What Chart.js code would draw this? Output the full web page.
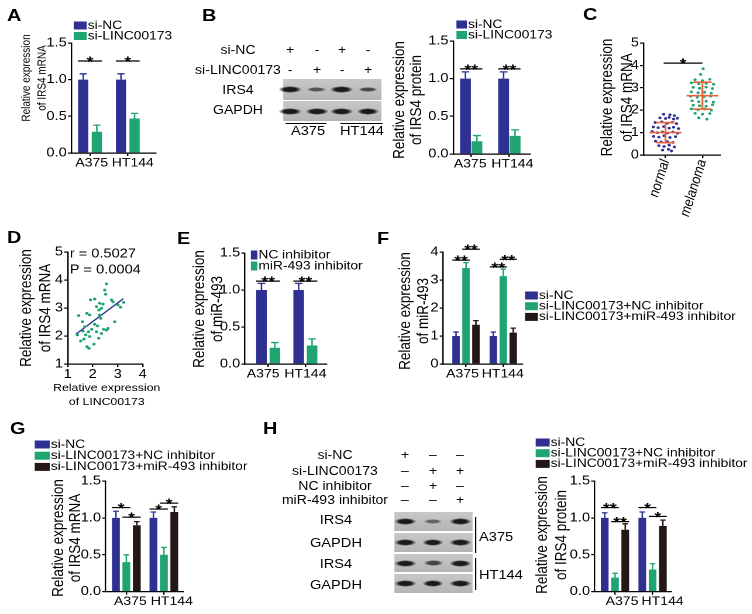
<!DOCTYPE html>
<html><head><meta charset="utf-8">
<script src="https://cdn.jsdelivr.net/npm/chart.js@4.4.0/dist/chart.umd.min.js"></script>
<style>
html,body{margin:0;padding:0;background:#fff;width:752px;height:614px;overflow:hidden}
#wrap{position:absolute;left:0;top:0;width:643px;height:614px;transform:scaleX(1.17);transform-origin:0 0;font-family:"Liberation Sans",Arial,Helvetica,sans-serif;color:#000}
.t{position:absolute;white-space:nowrap;line-height:1}
</style></head><body><div id="wrap"></div>
<script>
// ---------------- data ----------------
const cellLines = ['A375', 'HT144'];
// A: IRS4 mRNA
const aSiNC = [1.00, 1.00], aSiNCErr = [0.08, 0.08];
const aSiLINC = [0.29, 0.47], aSiLINCErr = [0.09, 0.07];
const aSig = [{g:0,a:0,b:1,v:1.255,t:'*'},{g:1,a:0,b:1,v:1.255,t:'*'}];
// B: IRS4 protein
const bSiNC = [1.00, 1.00], bSiNCErr = [0.09, 0.09];
const bSiLINC = [0.17, 0.24], bSiLINCErr = [0.075, 0.08];
const bSig = [{g:0,a:0,b:1,v:1.13,t:'**'},{g:1,a:0,b:1,v:1.13,t:'**'}];
const bSiNCSigns = ['+','-','+','-'], bSiLINCSigns = ['-','+','-','+'];
const bIRS4Band = [1, 0.45, 1, 0.55], bGAPDHBand = [1, 1, 1, 1];
// C: scatter normal vs melanoma
const cGroups = ['normal', 'melanoma'];
const cNormalJit = [-0.05,0.12,0.24,-0.15,0.0,0.1,0.22,0.32,-0.28,-0.1,0.05,0.18,0.3,-0.33,-0.2,-0.05,0.1,0.22,0.35,-0.36,-0.22,-0.08,0.05,0.2,0.33,-0.32,-0.18,-0.04,0.12,0.27,-0.27,-0.12,0.05,0.2,-0.18,-0.04,0.1,0.24,-0.08,0.08,0.16];
const cNormalVal = [1.82,1.80,1.76,1.66,1.63,1.68,1.60,1.64,1.45,1.48,1.42,1.46,1.40,1.25,1.22,1.27,1.20,1.24,1.18,1.05,1.00,1.03,0.98,1.02,0.97,0.83,0.80,0.86,0.78,0.82,0.62,0.58,0.60,0.56,0.42,0.38,0.44,0.36,0.22,0.25,0.18];
const cMelJit = [0.02,-0.05,-0.2,0.0,0.2,-0.3,-0.1,0.1,0.3,-0.25,-0.08,0.1,0.27,-0.3,-0.12,0.06,0.24,-0.32,-0.14,0.04,0.22,-0.28,-0.1,0.1,0.3,-0.25,-0.08,0.1,0.27,-0.3,-0.12,0.06,0.24,-0.2,0.0,0.2,-0.1,0.12];
const cMelVal = [3.85,3.60,3.36,3.32,3.38,3.22,3.18,3.20,3.16,3.02,2.98,3.03,2.97,2.82,2.78,2.80,2.76,2.62,2.58,2.60,2.63,2.42,2.38,2.40,2.36,2.22,2.20,2.18,2.24,2.06,2.02,2.05,2.00,1.86,1.82,1.85,1.66,1.60];
const cMean = [1.00, 2.65], cSD = [0.45, 0.60];
// D: correlation
const dLINC = [1.39,1.44,1.52,1.61,1.68,1.72,1.77,1.83,1.77,1.85,1.88,1.91,1.88,1.96,2.08,2.15,2.19,2.24,2.25,2.28,2.35,2.32,2.41,2.44,2.48,2.52,2.55,2.55,2.61,2.75,2.81,2.88,3.01,3.11,3.24,2.05,1.59,2.08,2.35,1.65,2.15,2.28];
const dIRS4 = [2.04,2.73,1.82,2.18,2.33,2.04,2.81,2.15,1.62,1.56,2.75,3.29,1.98,2.24,3.32,3.05,2.36,1.92,2.93,3.17,2.99,2.63,3.14,2.24,3.64,3.49,3.86,2.21,2.27,3.29,3.22,2.51,3.11,3.03,3.20,1.71,2.51,2.42,2.09,1.89,2.15,2.75];
const dFitX = [1.32, 3.22], dFitY = [2.06, 3.33];
// E: miR-493
const eNCinh = [1.00, 1.00], eNCinhErr = [0.09, 0.09];
const eMiRinh = [0.22, 0.25], eMiRinhErr = [0.07, 0.09];
const eSig = [{g:0,a:0,b:1,v:1.12,t:'**'},{g:1,a:0,b:1,v:1.12,t:'**'}];
// F: miR-493, 3 groups
const fSiNC = [1.00, 1.00], fSiNCErr = [0.14, 0.14];
const fNCinh = [3.43, 3.14], fNCinhErr = [0.19, 0.25];
const fMiRinh = [1.40, 1.12], fMiRinhErr = [0.15, 0.16];
const fSig = [{g:0,a:0,b:1,v:3.71,t:'**'},{g:0,a:1,b:2,v:4.10,t:'**'},{g:1,a:0,b:1,v:3.47,t:'**'},{g:1,a:1,b:2,v:3.74,t:'**'}];
// G: IRS4 mRNA, 3 groups
const gSiNC = [1.00, 1.00], gSiNCErr = [0.09, 0.08];
const gNCinh = [0.40, 0.50], gNCinhErr = [0.10, 0.10];
const gMiRinh = [0.90, 1.08], gMiRinhErr = [0.05, 0.07];
const gSig = [{g:0,a:0,b:1,v:1.14,t:'*'},{g:0,a:1,b:2,v:1.01,t:'*'},{g:1,a:0,b:1,v:1.12,t:'*'},{g:1,a:1,b:2,v:1.20,t:'*'}];
// H: IRS4 protein, 3 groups
const hSiNC = [1.00, 1.00], hSiNCErr = [0.07, 0.08];
const hNCinh = [0.19, 0.30], hNCinhErr = [0.06, 0.08];
const hMiRinh = [0.84, 0.89], hMiRinhErr = [0.08, 0.08];
const hSig = [{g:0,a:0,b:1,v:1.14,t:'**'},{g:0,a:1,b:2,v:0.95,t:'**'},{g:1,a:0,b:1,v:1.14,t:'*'},{g:1,a:1,b:2,v:1.02,t:'*'}];
const hSiNCSigns = ['+','–','–'], hSiLINCSigns = ['–','+','+'], hNCinhSigns = ['–','+','–'], hMiRinhSigns = ['–','–','+'];
const hIRS4A375Band = [1, 0.3, 1], hIRS4HT144Band = [1, 0.6, 1], hGAPDHBand = [1, 1, 1];

// ---------------- style / layout ----------------
const S = 1.17;
const BLUE = '#2e3192', GREEN = '#1fa472', BLACK = '#231815', ORANGE = '#e9663d';
const FONT = '"Liberation Sans", Arial, Helvetica, sans-serif';
const TICK = 12.5, XLAB = 12, LEG = 11.8, STAR = 15;
const wrap = document.getElementById('wrap');
Chart.defaults.font.family = FONT;
Chart.defaults.color = '#000';

function htmlText(s, x, y, size, align, extra) {
  const d = document.createElement('div');
  d.className = 't'; d.textContent = s;
  d.style.fontSize = size + 'px';
  d.style.left = (x / S) + 'px'; d.style.top = y + 'px';
  const tx = align === 'left' ? '0' : align === 'right' ? '-100%' : '-50%';
  d.style.transform = `translate(${tx},-50%)`;
  if (extra) Object.assign(d.style, extra);
  wrap.appendChild(d);
}
function htmlLine(xa, ya, xb, yb, w) {
  const d = document.createElement('div');
  d.style.position = 'absolute'; d.style.background = '#000';
  if (ya === yb) { d.style.left = xa / S + 'px'; d.style.width = (xb - xa) / S + 'px'; d.style.top = (ya - w / 2) + 'px'; d.style.height = w + 'px'; }
  else { d.style.left = (xa - w / 2) / S + 'px'; d.style.width = w / S + 'px'; d.style.top = ya + 'px'; d.style.height = (yb - ya) + 'px'; }
  wrap.appendChild(d);
}
function blotStrip(xa, xb, ya, yb, lanes, intens, bw, bh) {
  const d = document.createElement('div');
  d.style.cssText = `position:absolute;left:${xa / S}px;top:${ya}px;width:${(xb - xa) / S}px;height:${yb - ya}px;background:linear-gradient(#c8c8c8,#b4b4b4);`;
  wrap.appendChild(d);
  lanes.forEach((lx, i) => {
    const a = intens[i];
    const w = bw * (0.75 + 0.25 * a), h = bh * (0.45 + 0.55 * a);
    const b = document.createElement('div');
    b.style.cssText = `position:absolute;left:${(lx - w / 2) / S}px;top:${(ya + yb) / 2 - h / 2}px;width:${w / S}px;height:${h}px;border-radius:50%;background:radial-gradient(closest-side, rgba(18,18,18,${0.35 + 0.6 * a}) 55%, rgba(18,18,18,0) 100%);`;
    wrap.appendChild(b);
  });
}

function makeChart(p, type, datasets) {
  const W = Math.round((p.x1 - p.x0) / S), H = Math.round(p.y1 - p.y0);
  const cv = document.createElement('canvas');
  cv.width = W; cv.height = H;
  cv.style.position = 'absolute'; cv.style.left = (p.x0 / S) + 'px'; cv.style.top = p.y0 + 'px';
  wrap.appendChild(cv);
  const cx = x => (x - p.x0) / S, cy = y => y - p.y0;
  const yw = cx(p.L), xh = p.y1 - p.B, padR = W - cx(p.R), padT = cy(p.T);
  const border = {display: true, color: '#000', width: 1.2};
  const grid = {display: true, drawOnChartArea: false, drawTicks: true, tickLength: 3, color: '#000', lineWidth: 1.2, offset: false};
  const extras = {
    id: 'extras',
    afterDraw(chart) {
      const ctx = chart.ctx, ys = chart.scales.y, xs = chart.scales.x;
      if (p.errs) chart.data.datasets.forEach((ds, di) => {
        chart.getDatasetMeta(di).data.forEach((el, i) => {
          const top = ys.getPixelForValue(ds.data[i].y + p.errs[di][i]);
          ctx.save(); ctx.strokeStyle = ds.backgroundColor; ctx.lineWidth = 1.3;
          ctx.beginPath(); ctx.moveTo(el.x, el.y); ctx.lineTo(el.x, top);
          const hw = el.width * 0.36; ctx.moveTo(el.x - hw, top); ctx.lineTo(el.x + hw, top);
          ctx.stroke(); ctx.restore();
        });
      });
      (p.sig || []).forEach(s => {
        const A = chart.getDatasetMeta(s.a).data[s.g], B = chart.getDatasetMeta(s.b).data[s.g];
        const y = ys.getPixelForValue(s.v);
        const xa = A.x - A.width / 2, xb = B.x + B.width / 2;
        ctx.save(); ctx.strokeStyle = '#000'; ctx.lineWidth = 1.2;
        ctx.beginPath(); ctx.moveTo(xa, y); ctx.lineTo(xb, y); ctx.stroke();
        ctx.font = `bold ${STAR}px ${FONT}`; ctx.fillStyle = '#000'; ctx.textAlign = 'center'; ctx.textBaseline = 'alphabetic';
        ctx.fillText(s.t, (xa + xb) / 2, y + 5.5); ctx.restore();
      });
      if (p.labelShift) {
        ctx.save(); ctx.font = `${XLAB}px ${FONT}`; ctx.fillStyle = '#000';
        ctx.textAlign = 'center'; ctx.textBaseline = 'middle';
        p.xLabels.forEach((s, i) => ctx.fillText(s, xs.getPixelForValue(p.xTickVals[i]) + p.labelShift[i] / S, cy(p.B + 10)));
        ctx.restore();
      }
      if (p.legend) {
        const L = p.legend;
        chart.data.datasets.forEach((ds, i) => {
          const yy = L.y + i * L.dy;
          ctx.save(); ctx.fillStyle = ds.backgroundColor;
          ctx.fillRect(cx(L.x), cy(yy - L.bh / 2), L.bw / S, L.bh);
          ctx.fillStyle = '#000'; ctx.font = `${LEG}px ${FONT}`; ctx.textAlign = 'left'; ctx.textBaseline = 'middle';
          ctx.fillText(ds.label, cx(L.x + L.bw + 1), cy(yy)); ctx.restore();
        });
      }
      (p.titles || []).forEach(t => {
        ctx.save(); ctx.translate(cx(t.x), cy(t.y)); if (t.rot) ctx.rotate(t.rot);
        ctx.font = `${t.size}px ${FONT}`; ctx.fillStyle = '#000';
        ctx.textAlign = t.align || 'center'; ctx.textBaseline = 'middle';
        ctx.fillText(t.s, 0, 0); ctx.restore();
      });
      if (p.custom) p.custom(chart, ctx);
    }
  };
  const xTicks = {display: !p.labelShift, font: {size: TICK, style: p.xItalic ? 'italic' : 'normal'}, padding: 0, autoSkip: false,
    minRotation: p.xRot || 0, maxRotation: p.xRot || 0};
  if (p.xLabels) xTicks.callback = (v, i) => p.xLabels[i];
  else xTicks.stepSize = p.xStep;
  const xScale = {type: 'linear', min: p.xMin, max: p.xMax, offset: false, border, grid, ticks: xTicks,
    afterFit: s => { s.height = xh; }};
  if (p.xTickVals) xScale.afterBuildTicks = s => { s.ticks = p.xTickVals.map(v => ({value: v})); };
  const cfg = {
    type, data: {datasets},
    options: {
      responsive: false, devicePixelRatio: 2, animation: false, events: [],
      layout: {padding: {left: 0, top: padT, right: padR, bottom: 0}},
      plugins: {legend: {display: false}, tooltip: {enabled: false}},
      scales: {
        x: xScale,
        y: {type: 'linear', min: p.yMin, max: p.yMax, border, grid,
          ticks: {stepSize: p.yStep, font: {size: TICK}, padding: 1, callback: p.yFmt},
          afterFit: s => { s.width = yw; }}
      }
    },
    plugins: [extras]
  };
  return new Chart(cv, cfg);
}

function barPanel(p, series) {
  const ds = series.map(s => ({
    label: s.label, data: s.values.map((v, i) => ({x: i, y: v})),
    backgroundColor: s.color, borderWidth: 0, barPercentage: p.barPct, categoryPercentage: p.catPct
  }));
  p.errs = series.map(s => s.errors);
  p.xTickVals = cellLines.map((_, i) => i);
  p.xLabels = cellLines;
  return makeChart(p, 'bar', ds);
}
const ROT = -Math.PI / 2;
const fmt1 = v => v.toFixed(1);
const fmt0 = v => v.toFixed(0);
const yTitle = (l1, l2, x1, x2, y, size) => [
  {s: l1, x: x1, y, size, rot: ROT}, {s: l2, x: x2, y, size, rot: ROT}];

// ---------------- panel letters ----------------
[['A',7,15],['B',202,15],['C',583,14],['D',7,237],['E',177,238],['F',377,238],['G',10,428],['H',263,428]]
  .forEach(([s, x, y]) => htmlText(s, x, y, 17, 'left', {fontWeight: 'bold'}));

// ---------------- A ----------------
barPanel({x0: 12, x1: 200, y0: 15, y1: 180, L: 71.7, R: 156, T: 43, B: 153,
  xMin: -0.493, xMax: 1.74, yMin: 0, yMax: 1.5, yStep: 0.5, yFmt: fmt1, catPct: 0.72, barPct: 0.75,
  labelShift: [1.7, 5], legend: {x: 74, y: 25.5, dy: 10.5, bw: 13, bh: 8}, sig: aSig,
  titles: yTitle('Relative expression', 'of IRS4 mRNA', 27, 43, 78, 10)},
  [{label: 'si-NC', values: aSiNC, errors: aSiNCErr, color: BLUE},
   {label: 'si-LINC00173', values: aSiLINC, errors: aSiLINCErr, color: GREEN}]);

// ---------------- B blot ----------------
htmlText('si-NC', 238, 50, 12); htmlText('si-LINC00173', 238, 70, 12);
htmlText('IRS4', 238, 90, 12); htmlText('GAPDH', 238, 110, 12);
const bLanes = [290, 317, 342, 368];
bLanes.forEach((x, i) => { htmlText(bSiNCSigns[i], x, 50, 12); htmlText(bSiLINCSigns[i], x, 70, 12); });
blotStrip(283, 382, 79, 100, bLanes, bIRS4Band, 23, 7);
blotStrip(283, 382, 101, 121, bLanes, bGAPDHBand, 23, 7);
htmlLine(285, 123, 326, 123, 1); htmlLine(340, 123, 383, 123, 1);
htmlText('A375', 308, 131, 12.5); htmlText('HT144', 362, 131, 12.5);

// ---------------- B chart ----------------
barPanel({x0: 385, x1: 565, y0: 15, y1: 180, L: 453.3, R: 530, T: 41, B: 154,
  xMin: -0.47, xMax: 1.54, yMin: 0, yMax: 1.5, yStep: 0.5, yFmt: fmt1, catPct: 0.6, barPct: 0.95,
  labelShift: [-1, 3], legend: {x: 456.5, y: 24.5, dy: 10.5, bw: 10.5, bh: 8}, sig: bSig,
  titles: yTitle('Relative expression', 'of IRS4 protein', 400, 417, 100, 13.5)},
  [{label: 'si-NC', values: bSiNC, errors: bSiNCErr, color: BLUE},
   {label: 'si-LINC00173', values: bSiLINC, errors: bSiLINCErr, color: GREEN}]);

// ---------------- C ----------------
makeChart({x0: 595, x1: 750, y0: 20, y1: 225, L: 643, R: 720, T: 43, B: 155,
  xMin: 0.405, xMax: 2.49, xTickVals: [1, 2], xLabels: cGroups, xItalic: true, xRot: 75,
  yMin: 0, yMax: 5, yStep: 1, yFmt: fmt0,
  titles: yTitle('Relative expression', 'of IRS4 mRNA', 607, 627, 97.5, 13.5),
  custom(chart, ctx) {
    const X = v => chart.scales.x.getPixelForValue(v), Y = v => chart.scales.y.getPixelForValue(v);
    ctx.save(); ctx.strokeStyle = ORANGE; ctx.lineWidth = 1.6; ctx.beginPath();
    cMean.forEach((m, i) => {
      const c = i + 1, sd = cSD[i];
      ctx.moveTo(X(c - 0.43), Y(m)); ctx.lineTo(X(c + 0.43), Y(m));
      ctx.moveTo(X(c), Y(m - sd)); ctx.lineTo(X(c), Y(m + sd));
      ctx.moveTo(X(c - 0.25), Y(m + sd)); ctx.lineTo(X(c + 0.25), Y(m + sd));
      ctx.moveTo(X(c - 0.25), Y(m - sd)); ctx.lineTo(X(c + 0.25), Y(m - sd));
    });
    ctx.stroke();
    const y = Y(4.1);
    ctx.strokeStyle = '#000'; ctx.lineWidth = 1.2; ctx.beginPath();
    ctx.moveTo(X(0.95), y); ctx.lineTo(X(2.0), y); ctx.stroke();
    ctx.font = `bold ${STAR}px ${FONT}`; ctx.fillStyle = '#000'; ctx.textAlign = 'center';
    ctx.fillText('*', (X(0.95) + X(2.0)) / 2, y + 5.5);
    ctx.restore();
  }}, 'scatter', [
  {label: 'normal', data: cNormalVal.map((v, i) => ({x: 1 + cNormalJit[i], y: v})),
   backgroundColor: BLUE, pointBackgroundColor: BLUE, pointRadius: 1.35, pointBorderWidth: 0},
  {label: 'melanoma', data: cMelVal.map((v, i) => ({x: 2 + cMelJit[i], y: v})),
   backgroundColor: GREEN, pointBackgroundColor: GREEN, pointRadius: 1.35, pointBorderWidth: 0}]);

// ---------------- D ----------------
makeChart({x0: 12, x1: 175, y0: 240, y1: 410, L: 68, R: 143, T: 252, B: 364,
  xMin: 1, xMax: 4, xStep: 1, yMin: 1, yMax: 5, yStep: 1, yFmt: fmt0,
  titles: yTitle('Relative expression', 'of IRS4 mRNA', 27, 46, 308, 13.5).concat([
    {s: 'Relative expression', x: 107, y: 388, size: 10.5},
    {s: 'of LINC00173', x: 107, y: 402, size: 10.5},
    {s: 'r = 0.5027', x: 70, y: 254, size: 12.5, align: 'left'},
    {s: 'P = 0.0004', x: 70, y: 270, size: 12.5, align: 'left'}])
}, 'scatter', [
  {label: 'samples', data: dLINC.map((x, i) => ({x, y: dIRS4[i]})),
   backgroundColor: GREEN, pointBackgroundColor: GREEN, pointRadius: 1.4, pointBorderWidth: 0},
  {type: 'line', label: 'fit', data: dFitX.map((x, i) => ({x, y: dFitY[i]})),
   borderColor: BLUE, borderWidth: 1.3, pointRadius: 0, showLine: true, fill: false}]);

// ---------------- E ----------------
barPanel({x0: 185, x1: 372, y0: 240, y1: 385, L: 245, R: 326.7, T: 253, B: 364,
  xMin: -0.626, xMax: 1.57, yMin: 0, yMax: 1.5, yStep: 0.5, yFmt: fmt1, catPct: 0.72, barPct: 0.79,
  labelShift: [-5, 0], legend: {x: 251, y: 255, dy: 11, bw: 6.5, bh: 9}, sig: eSig,
  titles: yTitle('Relative expression', 'of miR-493', 200, 218, 309, 13.5)},
  [{label: 'NC inhibitor', values: eNCinh, errors: eNCinhErr, color: BLUE},
   {label: 'miR-493 inhibitor', values: eMiRinh, errors: eMiRinhErr, color: GREEN}]);

// ---------------- F ----------------
barPanel({x0: 392, x1: 750, y0: 240, y1: 385, L: 443.3, R: 522.7, T: 252, B: 364,
  xMin: -0.61, xMax: 1.52, yMin: 0, yMax: 4, yStep: 1, yFmt: fmt0, catPct: 0.8, barPct: 0.75,
  labelShift: [-3.5, -0.5], legend: {x: 525, y: 295.5, dy: 10.7, bw: 13, bh: 8}, sig: fSig,
  titles: yTitle('Relative expression', 'of miR-493', 406, 424, 311, 13.5)},
  [{label: 'si-NC', values: fSiNC, errors: fSiNCErr, color: BLUE},
   {label: 'si-LINC00173+NC inhibitor', values: fNCinh, errors: fNCinhErr, color: GREEN},
   {label: 'si-LINC00173+miR-493 inhibitor', values: fMiRinh, errors: fMiRinhErr, color: BLACK}]);

// ---------------- G ----------------
barPanel({x0: 12, x1: 255, y0: 432, y1: 612, L: 106, R: 183.3, T: 481, B: 591.7,
  xMin: -0.55, xMax: 1.51, yMin: 0, yMax: 1.5, yStep: 0.5, yFmt: fmt1, catPct: 0.835, barPct: 0.75,
  labelShift: [4, 8], legend: {x: 35, y: 444.5, dy: 11.2, bw: 15, bh: 8}, sig: gSig,
  titles: yTitle('Relative expression', 'of IRS4 mRNA', 59, 76, 538, 13.5)},
  [{label: 'si-NC', values: gSiNC, errors: gSiNCErr, color: BLUE},
   {label: 'si-LINC00173+NC inhibitor', values: gNCinh, errors: gNCinhErr, color: GREEN},
   {label: 'si-LINC00173+miR-493 inhibitor', values: gMiRinh, errors: gMiRinhErr, color: BLACK}]);

// ---------------- H blot ----------------
htmlText('si-NC', 335, 455, 12); htmlText('si-LINC00173', 335, 471, 12);
htmlText('NC inhibitor', 335, 486, 12); htmlText('miR-493 inhibitor', 335, 500, 12);
const hLanes = [405, 433, 460];
hLanes.forEach((x, i) => {
  htmlText(hSiNCSigns[i], x, 455, 12); htmlText(hSiLINCSigns[i], x, 471, 12);
  htmlText(hNCinhSigns[i], x, 486, 12); htmlText(hMiRinhSigns[i], x, 500, 12);
});
htmlText('IRS4', 336, 520, 12.5); htmlText('GAPDH', 336, 543, 12.5);
htmlText('IRS4', 336, 564, 12.5); htmlText('GAPDH', 336, 585, 12.5);
blotStrip(394, 473, 512, 531, hLanes, hIRS4A375Band, 22, 7);
blotStrip(394, 473, 533, 552, hLanes, hGAPDHBand, 22, 7);
blotStrip(394, 473, 554, 572, hLanes, hIRS4HT144Band, 22, 7);
blotStrip(394, 473, 574, 593, hLanes, hGAPDHBand, 22, 7);
htmlLine(476, 517, 476, 553, 1.2); htmlLine(476, 558, 476, 590, 1.2);
htmlText('A375', 479, 537, 12.5, 'left'); htmlText('HT144', 479, 575, 12.5, 'left');

// ---------------- H chart ----------------
barPanel({x0: 528, x1: 752, y0: 432, y1: 612, L: 595, R: 671.7, T: 481, B: 591.7,
  xMin: -0.54, xMax: 1.5, yMin: 0, yMax: 1.5, yStep: 0.5, yFmt: fmt1, catPct: 0.82, barPct: 0.75,
  labelShift: [7, 10], legend: {x: 536, y: 442.5, dy: 10.7, bw: 14, bh: 8}, sig: hSig,
  titles: yTitle('Relative expression', 'of IRS4 protein', 543, 562, 535, 13.5)},
  [{label: 'si-NC', values: hSiNC, errors: hSiNCErr, color: BLUE},
   {label: 'si-LINC00173+NC inhibitor', values: hNCinh, errors: hNCinhErr, color: GREEN},
   {label: 'si-LINC00173+miR-493 inhibitor', values: hMiRinh, errors: hMiRinhErr, color: BLACK}]);
</script></body></html>
